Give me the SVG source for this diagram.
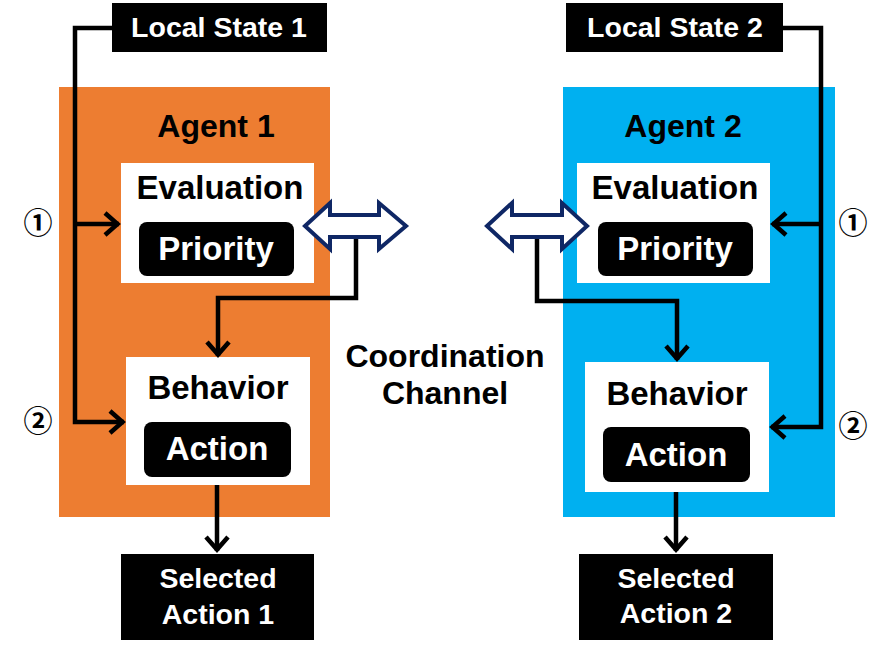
<svg xmlns="http://www.w3.org/2000/svg" width="891" height="649" viewBox="0 0 891 649">
<defs>
<style>
.t{font-family:"Liberation Sans",Arial,sans-serif;font-weight:bold;text-anchor:middle}
.w{fill:#fff}
.k{fill:#000}
.ln{fill:none;stroke:#000;stroke-width:4.5}
.dbl{fill:#fff;stroke:#0f2765;stroke-width:4;stroke-linejoin:miter}
.num{font-family:"Noto Sans CJK JP","DejaVu Sans",sans-serif;font-weight:bold;font-size:29px;text-anchor:middle;fill:#000}
</style>
<marker id="ah" markerUnits="userSpaceOnUse" viewBox="-20 -14 24 28" markerWidth="24" markerHeight="28" refX="0" refY="0" orient="auto">
<path d="M-14,-11 L-1.5,0 L-14,11" fill="none" stroke="#000" stroke-width="4.5"/>
</marker>
</defs>
<rect width="891" height="649" fill="#fff"/>

<g id="agent1">
<rect x="59" y="87" width="271" height="430" fill="#ED7D31"/>
<text class="t k" x="216" y="137" font-size="32">Agent 1</text>
</g>
<g id="agent2">
<rect x="563" y="87" width="272" height="430" fill="#00B0F0"/>
<text class="t k" x="683" y="137" font-size="32">Agent 2</text>
</g>

<g id="local1">
<rect x="112" y="3" width="215" height="49" fill="#000"/>
<text class="t w" x="219" y="37" font-size="28.5">Local State 1</text>
</g>
<g id="local2">
<rect x="566" y="3" width="217" height="49" fill="#000"/>
<text class="t w" x="675" y="37" font-size="28.5">Local State 2</text>
</g>

<g id="eval1">
<rect x="121" y="163" width="193" height="120" fill="#fff"/>
<text class="t k" x="220" y="199" font-size="33">Evaluation</text>
<rect x="139" y="222" width="155" height="54" rx="8" fill="#000"/>
<text class="t w" x="216" y="260" font-size="33">Priority</text>
</g>
<g id="behav1">
<rect x="126" y="357" width="184" height="128" fill="#fff"/>
<text class="t k" x="218" y="399" font-size="33">Behavior</text>
<rect x="144" y="422" width="147" height="55" rx="8" fill="#000"/>
<text class="t w" x="217" y="460" font-size="33">Action</text>
</g>
<g id="eval2">
<rect x="577" y="163" width="193" height="120" fill="#fff"/>
<text class="t k" x="675" y="199" font-size="33">Evaluation</text>
<rect x="598" y="222" width="155" height="54" rx="8" fill="#000"/>
<text class="t w" x="675" y="260" font-size="33">Priority</text>
</g>
<g id="behav2">
<rect x="585" y="362" width="184" height="130" fill="#fff"/>
<text class="t k" x="677" y="405" font-size="33">Behavior</text>
<rect x="603" y="427" width="147" height="55" rx="8" fill="#000"/>
<text class="t w" x="676" y="466" font-size="33">Action</text>
</g>

<g id="sel1">
<rect x="121" y="554" width="193" height="86" fill="#000"/>
<text class="t w" x="218" y="588" font-size="28.5">Selected</text>
<text class="t w" x="218" y="624" font-size="28.5">Action 1</text>
</g>
<g id="sel2">
<rect x="579" y="554" width="194" height="86" fill="#000"/>
<text class="t w" x="676" y="588" font-size="28.5">Selected</text>
<text class="t w" x="676" y="623" font-size="28.5">Action 2</text>
</g>

<g id="channel">
<text class="t k" x="445" y="367" font-size="32">Coordination</text>
<text class="t k" x="445" y="404" font-size="32">Channel</text>
</g>

<g id="connectors">
<polyline class="ln" points="112,28 75,28 75,422 124,422" marker-end="url(#ah)"/>
<line class="ln" x1="75" y1="224" x2="119" y2="224" marker-end="url(#ah)"/>
<polyline class="ln" points="783,28 821,28 821,427 771,427" marker-end="url(#ah)"/>
<line class="ln" x1="821" y1="224" x2="772" y2="224" marker-end="url(#ah)"/>
<polyline class="ln" points="356,237 356,298 218,298 218,356" marker-end="url(#ah)"/>
<polyline class="ln" points="537,237 537,301 677,301 677,360" marker-end="url(#ah)"/>
<line class="ln" x1="217" y1="485" x2="217" y2="551" stroke-width="5" marker-end="url(#ah)"/>
<line class="ln" x1="676" y1="492" x2="676" y2="551" stroke-width="5" marker-end="url(#ah)"/>
<polygon class="dbl" points="305,226 330,203 330,215 379,215 379,203 406,226 379,249 379,237 330,237 330,249"/>
<polygon class="dbl" points="487,226 512,203 512,215 562,215 562,203 587,226 562,249 562,237 512,237 512,249"/>
</g>

<g id="labels">
<text class="num" x="38" y="234">①</text>
<text class="num" x="38" y="432">②</text>
<text class="num" x="853" y="234">①</text>
<text class="num" x="853" y="437">②</text>
</g>
</svg>
